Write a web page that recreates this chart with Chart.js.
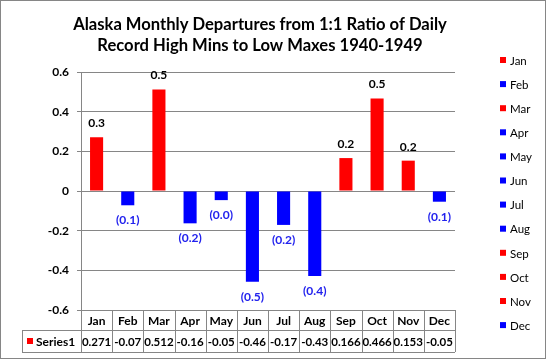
<!DOCTYPE html>
<html lang="en">
<head>
    <meta charset="UTF-8">
    <title>Alaska Monthly Departures</title>
    <script src="https://cdn.jsdelivr.net/npm/chart.js"></script>
    <style>
        body {
            margin: 0;
            padding: 0;
            background: #ffffff;
        }
        canvas {
            display: block;
        }
    </style>
</head>
<body>
    <canvas id="chart" width="546" height="359"></canvas>

    <script>
        // data
        const months = ['Jan', 'Feb', 'Mar', 'Apr', 'May', 'Jun', 'Jul', 'Aug', 'Sep', 'Oct', 'Nov', 'Dec'];
        const departures = [0.271, -0.072, 0.512, -0.163, -0.046, -0.458, -0.171, -0.428, 0.166, 0.466, 0.153, -0.054];
        const yTicks = [-0.6, -0.4, -0.2, 0, 0.2, 0.4, 0.6];
        const seriesName = 'Series1';
        const titleLines = ['Alaska Monthly Departures from 1:1 Ratio of Daily', 'Record High Mins to Low Maxes 1940-1949'];

        const RED = '#ff0000';
        const BLUE = '#0000ff';
        const GRID = '#868686';
        const FONT = 'Lato, "Liberation Sans", sans-serif';

        const barColors = departures.map(v => v >= 0 ? RED : BLUE);

        // label above/below bars: one decimal, negatives in brackets
        const barLabel = v => v < 0 ? '(' + Math.abs(v).toFixed(1) + ')' : v.toFixed(1);
        // table cell: fits 5 characters like the sheet does
        const cellText = v => v < 0 ? v.toFixed(2) : v.toFixed(3);

        const extras = {
            id: 'extras',
            afterDraw(chart) {
                const ctx = chart.ctx;
                const x = chart.scales.x;
                const area = chart.chartArea;
                ctx.save();

                // outer frame
                ctx.strokeStyle = GRID;
                ctx.lineWidth = 1;
                ctx.strokeRect(0.5, 0.5, chart.width - 1, chart.height - 1);

                // title
                ctx.fillStyle = '#000';
                ctx.font = 'bold 16.6px ' + FONT;
                ctx.textAlign = 'center';
                ctx.textBaseline = 'alphabetic';
                ctx.fillText(titleLines[0], 260, 30);
                ctx.fillText(titleLines[1], 260, 51);

                // bar value labels
                const meta = chart.getDatasetMeta(0);
                ctx.font = 'bold 12px ' + FONT;
                ctx.textBaseline = 'middle';
                meta.data.forEach((bar, i) => {
                    const v = departures[i];
                    if (v >= 0) {
                        ctx.fillStyle = '#000';
                        ctx.fillText(barLabel(v), bar.x, bar.y - 14);
                    } else {
                        ctx.fillStyle = '#2222ee';
                        ctx.fillText(barLabel(v), bar.x, bar.y + 15);
                    }
                });

                // legend on the right
                ctx.font = '11.5px ' + FONT;
                ctx.textAlign = 'left';
                months.forEach((m, i) => {
                    const y = 60 + i * 24.1;
                    ctx.fillStyle = barColors[i];
                    ctx.fillRect(500, y - 3, 6, 6);
                    ctx.fillStyle = '#000';
                    ctx.fillText(m, 510, y + 1);
                });

                // data table under the plot
                const half = (x.getPixelForValue(1) - x.getPixelForValue(0)) / 2;
                const top = area.bottom;
                const mid = top + 20;
                const bot = mid + 22;
                const tableLeft = 22;
                ctx.strokeStyle = GRID;
                ctx.beginPath();
                ctx.moveTo(area.left, Math.round(mid) + 0.5);
                ctx.lineTo(area.right, Math.round(mid) + 0.5);
                ctx.moveTo(tableLeft, Math.round(mid) + 0.5);
                ctx.lineTo(area.left, Math.round(mid) + 0.5);
                ctx.moveTo(tableLeft, Math.round(bot) + 0.5);
                ctx.lineTo(area.right, Math.round(bot) + 0.5);
                ctx.moveTo(tableLeft + 0.5, Math.round(mid));
                ctx.lineTo(tableLeft + 0.5, Math.round(bot));
                for (let i = 0; i <= months.length; i++) {
                    const px = Math.round(x.getPixelForValue(0) - half + i * 2 * half) + 0.5;
                    ctx.moveTo(px, top);
                    ctx.lineTo(px, Math.round(bot));
                }
                ctx.stroke();

                ctx.textAlign = 'center';
                ctx.fillStyle = '#000';
                months.forEach((m, i) => {
                    const cx = x.getPixelForValue(i);
                    ctx.font = 'bold 12px ' + FONT;
                    ctx.fillText(m, cx, (top + mid) / 2 + 1);
                    ctx.font = 'bold 11.5px ' + FONT;
                    ctx.fillText(cellText(departures[i]), cx, (mid + bot) / 2 + 1);
                });
                ctx.fillStyle = RED;
                ctx.fillRect(27, (mid + bot) / 2 - 3, 6, 6);
                ctx.fillStyle = '#000';
                ctx.textAlign = 'left';
                ctx.font = 'bold 12px ' + FONT;
                ctx.fillText(seriesName, 36, (mid + bot) / 2 + 1);

                ctx.restore();
            }
        };

        const chart = new Chart(document.getElementById('chart').getContext('2d'), {
            type: 'bar',
            data: {
                labels: months,
                datasets: [{
                    label: seriesName,
                    data: departures,
                    backgroundColor: barColors,
                    borderWidth: 0,
                    barPercentage: 0.42,
                    categoryPercentage: 1.0,
                }],
            },
            options: {
                responsive: false,
                animation: false,
                devicePixelRatio: 1,
                layout: {
                    padding: { top: 72, right: 91, bottom: 49, left: 45 },
                },
                scales: {
                    x: {
                        display: false,
                    },
                    y: {
                        min: -0.6,
                        max: 0.6,
                        afterFit(scale) {
                            scale.width = 36;
                        },
                        afterBuildTicks(scale) {
                            scale.ticks = yTicks.map(v => ({ value: v }));
                        },
                        grid: {
                            color: GRID,
                            tickLength: 4,
                            lineWidth: 1,
                        },
                        border: {
                            color: GRID,
                        },
                        ticks: {
                            padding: 8,
                            color: '#000',
                            font: { family: FONT, size: 12, weight: 'bold' },
                            callback: v => v === 0 ? '0' : v.toFixed(1),
                        },
                    },
                },
                plugins: {
                    legend: { display: false },
                    title: { display: false },
                    tooltip: { enabled: false },
                },
            },
            plugins: [extras],
        });
    </script>
</body>
</html>
